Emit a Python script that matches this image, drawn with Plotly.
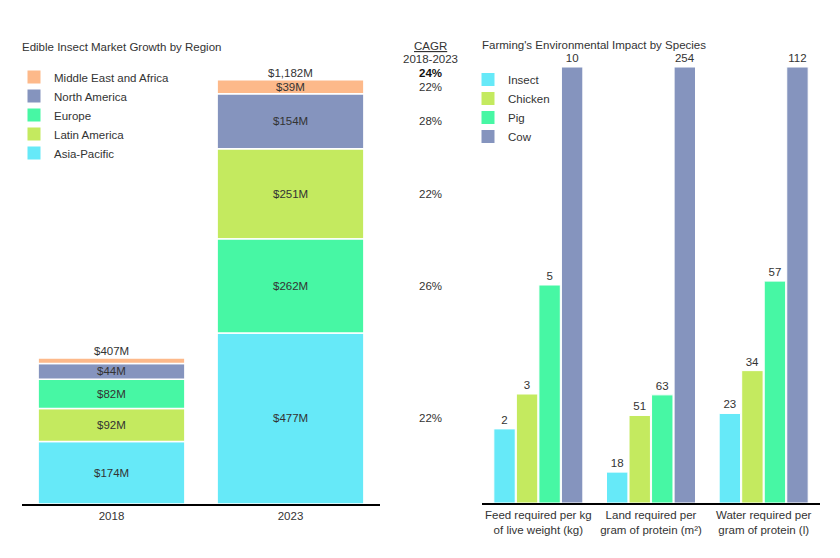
import plotly.graph_objects as go

# ---------------- Data ----------------
years = ["2018", "2023"]
regions = ["Asia-Pacific", "Latin America", "Europe", "North America", "Middle East and Africa"]
market_2018 = [174, 92, 82, 44, 15]
market_2023 = [477, 251, 262, 154, 39]
totals = [407, 1182]
cagr_regions = [22, 22, 26, 28, 22]   # per region (same order as regions)
cagr_total = 24

species = ["Insect", "Chicken", "Pig", "Cow"]
metrics = ["Feed required per kg<br>of live weight (kg)",
           "Land required per<br>gram of protein (m²)",
           "Water required per<br>gram of protein (l)"]
feed = [1.7, 2.5, 5, 10]
land = [18, 51, 63, 254]
water = [23, 34, 57, 112]
feed_labels = ["2", "3", "5", "10"]
land_labels = ["18", "51", "63", "254"]
water_labels = ["23", "34", "57", "112"]

region_colors = ["#66E9F8", "#C4EA5F", "#47F7A4", "#8594BE", "#FDB98A"]
species_colors = ["#66E9F8", "#C4EA5F", "#47F7A4", "#8594BE"]
TXT = "#333333"
FONT = "Liberation Sans, Arial, sans-serif"
FS = 11.5

W, H = 840, 558
OFF = 8  # page body margin


def px(xp):
    return (xp - OFF) / W


def py(yp):
    return 1 - (yp - OFF) / H


fig = go.Figure()

# ---------- Left: stacked bars sorted by value within each year ----------
def bases(values):
    order = sorted(range(len(values)), key=lambda i: -values[i])
    b = [0] * len(values)
    acc = 0
    for i in order:
        b[i] = acc
        acc += values[i]
    return b

b18 = bases(market_2018)
b23 = bases(market_2023)
year_idx = list(range(len(years)))  # category index positions

annotations = []
for i, r in enumerate(regions):
    vals = [market_2018[i], market_2023[i]]
    bs = [b18[i], b23[i]]
    fig.add_trace(go.Bar(
        x=years, y=vals, base=bs, name=r, showlegend=False,
        marker=dict(color=region_colors[i], line=dict(color="white", width=1.5)),
        width=0.82, offset=-0.41,
        xaxis="x", yaxis="y", hoverinfo="skip",
    ))
    # legend entry (square swatch)
    fig.add_trace(go.Scatter(
        x=[None], y=[None], mode="markers", name=r,
        marker=dict(symbol="square", size=13, color=region_colors[i]),
        xaxis="x", yaxis="y", legend="legend", hoverinfo="skip",
    ))
    for xi, v, b in zip(year_idx, vals, bs):
        if v >= 30:
            annotations.append(dict(x=xi, y=b + v / 2, xref="x", yref="y",
                                    text=f"${v}M", showarrow=False,
                                    font=dict(size=FS, color=TXT, family=FONT)))
    # CAGR aligned with 2023 segment
    annotations.append(dict(x=px(430), y=b23[i] + market_2023[i] / 2, xref="paper", yref="y",
                            text=f"{cagr_regions[i]}%", showarrow=False,
                            font=dict(size=FS, color=TXT, family=FONT)))

for xi, t in zip(year_idx, totals):
    annotations.append(dict(x=xi, y=t, xref="x", yref="y", text=f"${t:,}M",
                            showarrow=False, yanchor="bottom", yshift=-1,
                            font=dict(size=FS, color=TXT, family=FONT)))
annotations.append(dict(x=px(430), y=totals[1], xref="paper", yref="y",
                        text=f"<b>{cagr_total}%</b>", showarrow=False,
                        yanchor="bottom", yshift=-1,
                        font=dict(size=FS, color="#111111", family=FONT)))
annotations.append(dict(x=px(430), y=py(46), xref="paper", yref="paper",
                        text="<u>CAGR</u>", showarrow=False, yanchor="middle",
                        font=dict(size=FS, color=TXT, family=FONT)))
annotations.append(dict(x=px(430), y=py(58.5), xref="paper", yref="paper",
                        text="2018-2023", showarrow=False, yanchor="middle",
                        font=dict(size=FS, color=TXT, family=FONT)))
annotations.append(dict(x=px(20), y=py(47), xref="paper", yref="paper",
                        text="Edible Insect Market Growth by Region", showarrow=False,
                        xanchor="left", yanchor="middle",
                        font=dict(size=FS, color=TXT, family=FONT)))
annotations.append(dict(x=px(480), y=py(45), xref="paper", yref="paper",
                        text="Farming's Environmental Impact by Species", showarrow=False,
                        xanchor="left", yanchor="middle",
                        font=dict(size=FS, color=TXT, family=FONT)))

# ---------- Right: grouped bars, each metric scaled to its maximum ----------
groups = [feed, land, water]
group_labels = [feed_labels, land_labels, water_labels]
for j, sp in enumerate(species):
    ys = [g[j] / max(g) for g in groups]
    txt = [gl[j] for gl in group_labels]
    fig.add_trace(go.Bar(
        x=metrics, y=ys, name=sp, text=txt, textposition="outside", showlegend=False,
        textfont=dict(size=FS, color=TXT, family=FONT), cliponaxis=False,
        marker=dict(color=species_colors[j], line=dict(color="white", width=1)),
        xaxis="x2", yaxis="y2", hoverinfo="skip",
    ))
    fig.add_trace(go.Scatter(
        x=[None], y=[None], mode="markers", name=sp,
        marker=dict(symbol="square", size=13, color=species_colors[j]),
        xaxis="x2", yaxis="y2", legend="legend2", hoverinfo="skip",
    ))

fig.update_layout(
    width=W, height=H,
    margin=dict(l=0, r=0, t=0, b=0),
    paper_bgcolor="white", plot_bgcolor="rgba(0,0,0,0)",
    font=dict(family=FONT, size=FS, color=TXT),
    barmode="group", bargap=0.2, bargroupgap=0.05,
    showlegend=True,
    xaxis=dict(domain=[px(22), px(380)], type="category", range=[-0.5, 1.5],
               showline=True, linecolor="black", linewidth=2, showgrid=False, ticks="",
               tickfont=dict(size=FS, color=TXT), anchor="y"),
    yaxis=dict(domain=[py(504), py(80)], range=[0, totals[1]],
               visible=False, anchor="x"),
    xaxis2=dict(domain=[px(482), px(820)], type="category", range=[-0.5, 2.5],
                showline=True, linecolor="black", linewidth=2, showgrid=False, ticks="",
                tickfont=dict(size=FS, color=TXT), anchor="y2"),
    yaxis2=dict(domain=[py(503), py(67)], range=[0, 1],
                visible=False, anchor="x2"),
    legend=dict(x=px(14), y=py(62.5), xanchor="left", yanchor="top",
                traceorder="reversed", bgcolor="rgba(0,0,0,0)",
                font=dict(size=FS, color=TXT, family=FONT), itemwidth=30,
                itemsizing="trace"),
    legend2=dict(x=px(468), y=py(65), xanchor="left", yanchor="top",
                 traceorder="normal", bgcolor="rgba(0,0,0,0)",
                 font=dict(size=FS, color=TXT, family=FONT), itemwidth=30,
                 itemsizing="trace"),
    annotations=annotations,
)

fig.write_html("out.html")
